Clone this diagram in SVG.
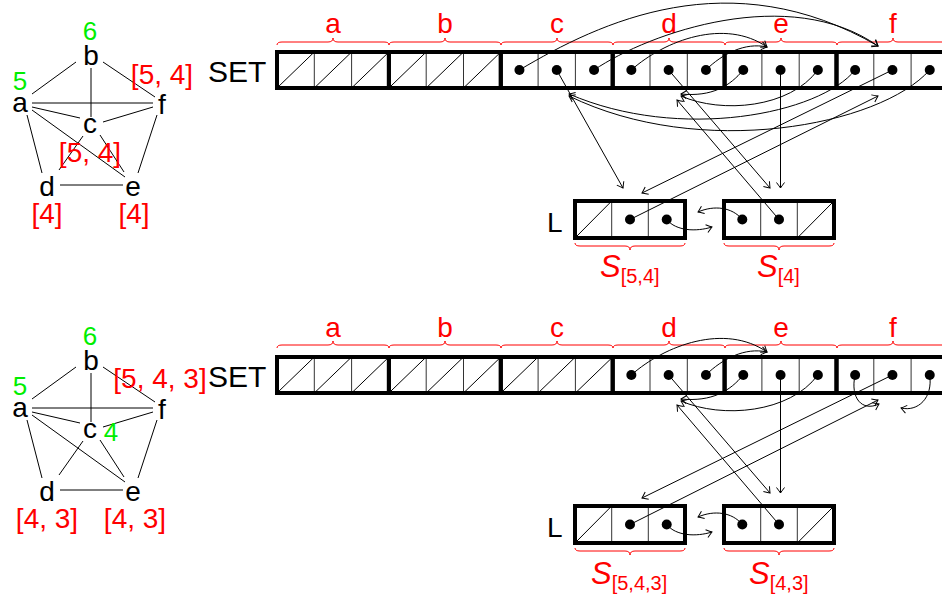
<svg xmlns="http://www.w3.org/2000/svg" width="942" height="597" viewBox="0 0 942 597">
<style>
text{font-family:"Liberation Sans",Arial,sans-serif;}
.lbl{font-size:28px;fill:#000;text-anchor:middle;}
.red{font-size:28px;fill:#ff0000;text-anchor:middle;}
.grn{font-size:26px;fill:#00ee00;text-anchor:middle;}
.big{font-size:30px;fill:#000;}
.glbl{font-size:28px;fill:#ff0000;text-anchor:middle;}
.edge{stroke:#000;stroke-width:1;fill:none;}
.frame{fill:none;stroke:#000;stroke-width:4;}
.cell{stroke:#333;stroke-width:1;}
.slash{stroke:#000;stroke-width:1;}
.dot{fill:#000;}
.brace{fill:none;stroke:#ff0000;stroke-width:1;}
.ptr{stroke:#000;stroke-width:1;fill:none;marker-end:url(#ah);}
.sl{font-size:31px;fill:#ff0000;}
</style>
<defs>
<marker id="ah" viewBox="-7 -5 8 10" refX="0" refY="0" markerWidth="8" markerHeight="10" markerUnits="userSpaceOnUse" orient="auto">
<path d="M-5.5,-4 Q-1.5,-1 0,0 Q-1.5,1 -5.5,4" fill="none" stroke="#000" stroke-width="1"/>
</marker>
<g id="cells3">
<line class="cell" x1="37.3" y1="0" x2="37.3" y2="36"/>
<line class="cell" x1="74.6" y1="0" x2="74.6" y2="36"/>
</g>
<g id="slash3">
<line class="slash" x1="0" y1="36" x2="37.3" y2="0"/>
<line class="slash" x1="37.3" y1="36" x2="74.6" y2="0"/>
<line class="slash" x1="74.6" y1="36" x2="111.9" y2="0"/>
</g>
</defs>

<!-- ===== TOP GRAPH ===== -->
<g id="graph1-edges">
<line class="edge" x1="32" y1="94" x2="76" y2="62"/>
<line class="edge" x1="103" y1="62" x2="155" y2="97"/>
<line class="edge" x1="91" y1="68" x2="91" y2="117"/>
<line class="edge" x1="32" y1="103" x2="153" y2="103"/>
<line class="edge" x1="32" y1="107" x2="80" y2="118"/>
<line class="edge" x1="103" y1="122" x2="153" y2="107"/>
<line class="edge" x1="32" y1="110" x2="125" y2="177"/>
<line class="edge" x1="27" y1="115" x2="42" y2="173"/>
<line class="edge" x1="83" y1="136" x2="59" y2="170"/>
<line class="edge" x1="100" y1="135" x2="124" y2="172"/>
<line class="edge" x1="60" y1="185" x2="123" y2="185"/>
<line class="edge" x1="157" y1="115" x2="138" y2="173"/>
</g>
<g id="g1-a"><text class="lbl" x="20" y="112">a</text><text class="grn" x="20" y="90">5</text></g>
<g id="g1-b"><text class="lbl" x="91" y="65">b</text><text class="grn" x="90" y="40">6</text></g>
<g id="g1-c"><text class="lbl" x="90" y="133">c</text><text class="glbl" x="90" y="162">[5, 4]</text></g>
<g id="g1-d"><text class="lbl" x="47" y="196">d</text><text class="glbl" x="47" y="223">[4]</text></g>
<g id="g1-e"><text class="lbl" x="133" y="196">e</text><text class="glbl" x="134" y="223">[4]</text></g>
<g id="g1-f"><text class="lbl" x="162" y="114">f</text><text class="glbl" x="162" y="84">[5, 4]</text></g>

<!-- ===== TOP SET ===== -->
<text class="big" x="208" y="82">SET</text>
<g id="set1">
<g id="set1-a" transform="translate(277,52)"><use href="#cells3"/><use href="#slash3"/><rect class="frame" x="0" y="0" width="111.9" height="36"/></g>
<g id="set1-b" transform="translate(388.9,52)"><use href="#cells3"/><use href="#slash3"/><rect class="frame" x="0" y="0" width="111.9" height="36"/></g>
<g id="set1-c" transform="translate(500.8,52)"><use href="#cells3"/><circle class="dot" cx="18.65" cy="18" r="5"/><circle class="dot" cx="55.95" cy="18" r="5"/><circle class="dot" cx="93.25" cy="18" r="5"/><rect class="frame" x="0" y="0" width="111.9" height="36"/></g>
<g id="set1-d" transform="translate(612.7,52)"><use href="#cells3"/><circle class="dot" cx="18.65" cy="18" r="5"/><circle class="dot" cx="55.95" cy="18" r="5"/><circle class="dot" cx="93.25" cy="18" r="5"/><rect class="frame" x="0" y="0" width="111.9" height="36"/></g>
<g id="set1-e" transform="translate(724.6,52)"><use href="#cells3"/><circle class="dot" cx="18.65" cy="18" r="5"/><circle class="dot" cx="55.95" cy="18" r="5"/><circle class="dot" cx="93.25" cy="18" r="5"/><rect class="frame" x="0" y="0" width="111.9" height="36"/></g>
<g id="set1-f" transform="translate(836.5,52)"><use href="#cells3"/><circle class="dot" cx="18.65" cy="18" r="5"/><circle class="dot" cx="55.95" cy="18" r="5"/><circle class="dot" cx="93.25" cy="18" r="5"/><rect class="frame" x="0" y="0" width="111.9" height="36"/></g>
</g>
<g id="braces1">
<path class="brace" d="M277,45 Q277,42 282,42 L328,42 Q333,42 333,38 Q333,42 338,42 L384,42 Q389,42 389,45"/>
<path class="brace" d="M389,45 Q389,42 394,42 L440,42 Q445,42 445,38 Q445,42 450,42 L496,42 Q501,42 501,45"/>
<path class="brace" d="M501,45 Q501,42 506,42 L552,42 Q557,42 557,38 Q557,42 562,42 L608,42 Q613,42 613,45"/>
<path class="brace" d="M613,45 Q613,42 618,42 L664,42 Q669,42 669,38 Q669,42 674,42 L720,42 Q725,42 725,45"/>
<path class="brace" d="M725,45 Q725,42 730,42 L776,42 Q781,42 781,38 Q781,42 786,42 L832,42 Q837,42 837,45"/>
<path class="brace" d="M837,45 Q837,42 842,42 L888,42 Q893,42 893,38 Q893,42 898,42 L944,42 Q949,42 949,45"/>
<text class="red" x="333" y="33">a</text>
<text class="red" x="445" y="33">b</text>
<text class="red" x="557" y="33">c</text>
<text class="red" x="669" y="33">d</text>
<text class="red" x="781" y="33">e</text>
<text class="red" x="893" y="33">f</text>
</g>

<!-- ===== TOP L ===== -->
<text class="big" x="547" y="232" style="font-size:28px">L</text>
<g id="L1-s1" transform="translate(575,201)">
<line class="cell" x1="36.7" y1="0" x2="36.7" y2="37"/><line class="cell" x1="73.3" y1="0" x2="73.3" y2="37"/>
<line class="slash" x1="0" y1="37" x2="36.7" y2="0"/>
<circle class="dot" cx="55" cy="18.5" r="5"/><circle class="dot" cx="91.7" cy="18.5" r="5"/>
<rect class="frame" x="0" y="0" width="110" height="37"/>
</g>
<g id="L1-s2" transform="translate(724,201)">
<line class="cell" x1="36.7" y1="0" x2="36.7" y2="37"/><line class="cell" x1="73.3" y1="0" x2="73.3" y2="37"/>
<line class="slash" x1="73.3" y1="37" x2="110" y2="0"/>
<circle class="dot" cx="18.3" cy="18.5" r="5"/><circle class="dot" cx="55" cy="18.5" r="5"/>
<rect class="frame" x="0" y="0" width="110" height="37"/>
</g>
<g id="L1-braces">
<path class="brace" d="M575,243 Q575,246 580,246 L625,246 Q630,246 630,250 Q630,246 635,246 L680,246 Q685,246 685,243"/>
<path class="brace" d="M724,243 Q724,246 729,246 L774,246 Q779,246 779,250 Q779,246 784,246 L829,246 Q834,246 834,243"/>
<text class="sl" x="600" y="277"><tspan font-style="italic">S</tspan><tspan font-size="20" dy="6">[5,4]</tspan></text>
<text class="sl" x="757" y="277"><tspan font-style="italic">S</tspan><tspan font-size="20" dy="6">[4]</tspan></text>
</g>

<!-- ===== TOP CONNECTORS ===== -->
<g id="connectors1">
<path class="ptr" d="M519.4,70 C600,22 730,-40 878,46"/>
<path class="ptr" d="M594,70 C650,32 790,-16 878,46"/>
<path class="ptr" d="M631.3,70 C665,40 725,18 767,47"/>
<path class="ptr" d="M705.9,70 C722,54 745,42 767,47"/>
<path class="ptr" d="M743.2,70 C730,86 712,97 681,94"/>
<path class="ptr" d="M817.8,70 C790,108 722,114 681,96"/>
<path class="ptr" d="M855.1,70 C820,114 680,142 569,94"/>
<path class="ptr" d="M929.7,70 C880,126 700,160 569,96"/>
<path class="ptr" d="M556.7,70 L623,188"/>
<path class="ptr" d="M892.4,70 L642,193"/>
<path class="ptr" d="M630,219.5 L878,96"/>
<path class="ptr" d="M668.6,70 L770,188"/>
<path class="ptr" d="M779,219.5 L677,100"/>
<path class="ptr" d="M780.5,70 L780.5,188"/>
<path class="ptr" d="M742.3,219.5 C732,207 714,205 698,212"/>
<path class="ptr" d="M666.7,219.5 C676,231 696,232 712,227"/>
</g>

<!-- ===== BOTTOM GRAPH ===== -->
<g id="graph2-edges" transform="translate(0,305)">
<line class="edge" x1="32" y1="94" x2="76" y2="62"/>
<line class="edge" x1="103" y1="62" x2="155" y2="97"/>
<line class="edge" x1="91" y1="68" x2="91" y2="117"/>
<line class="edge" x1="32" y1="103" x2="153" y2="103"/>
<line class="edge" x1="32" y1="107" x2="80" y2="118"/>
<line class="edge" x1="103" y1="122" x2="153" y2="107"/>
<line class="edge" x1="32" y1="110" x2="125" y2="177"/>
<line class="edge" x1="27" y1="115" x2="42" y2="173"/>
<line class="edge" x1="83" y1="136" x2="59" y2="170"/>
<line class="edge" x1="100" y1="135" x2="124" y2="172"/>
<line class="edge" x1="60" y1="185" x2="123" y2="185"/>
<line class="edge" x1="157" y1="115" x2="138" y2="173"/>
</g>
<g id="g2-a"><text class="lbl" x="20" y="417">a</text><text class="grn" x="20" y="395">5</text></g>
<g id="g2-b"><text class="lbl" x="91" y="370">b</text><text class="grn" x="90" y="345">6</text></g>
<g id="g2-c"><text class="lbl" x="90" y="438">c</text><text class="grn" x="111" y="441">4</text></g>
<g id="g2-d"><text class="lbl" x="47" y="501">d</text><text class="glbl" x="47" y="528">[4, 3]</text></g>
<g id="g2-e"><text class="lbl" x="133" y="501">e</text><text class="glbl" x="135" y="528">[4, 3]</text></g>
<g id="g2-f"><text class="lbl" x="162" y="419">f</text><text class="glbl" x="160" y="388">[5, 4, 3]</text></g>

<!-- ===== BOTTOM SET ===== -->
<text class="big" x="208" y="387">SET</text>
<g id="set2">
<g id="set2-a" transform="translate(277,357)"><use href="#cells3"/><use href="#slash3"/><rect class="frame" x="0" y="0" width="111.9" height="36"/></g>
<g id="set2-b" transform="translate(388.9,357)"><use href="#cells3"/><use href="#slash3"/><rect class="frame" x="0" y="0" width="111.9" height="36"/></g>
<g id="set2-c" transform="translate(500.8,357)"><use href="#cells3"/><use href="#slash3"/><rect class="frame" x="0" y="0" width="111.9" height="36"/></g>
<g id="set2-d" transform="translate(612.7,357)"><use href="#cells3"/><circle class="dot" cx="18.65" cy="18" r="5"/><circle class="dot" cx="55.95" cy="18" r="5"/><circle class="dot" cx="93.25" cy="18" r="5"/><rect class="frame" x="0" y="0" width="111.9" height="36"/></g>
<g id="set2-e" transform="translate(724.6,357)"><use href="#cells3"/><circle class="dot" cx="18.65" cy="18" r="5"/><circle class="dot" cx="55.95" cy="18" r="5"/><circle class="dot" cx="93.25" cy="18" r="5"/><rect class="frame" x="0" y="0" width="111.9" height="36"/></g>
<g id="set2-f" transform="translate(836.5,357)"><use href="#cells3"/><circle class="dot" cx="18.65" cy="18" r="5"/><circle class="dot" cx="55.95" cy="18" r="5"/><circle class="dot" cx="93.25" cy="18" r="5"/><rect class="frame" x="0" y="0" width="111.9" height="36"/></g>
</g>
<g id="braces2">
<path class="brace" d="M277,348 Q277,345 282,345 L328,345 Q333,345 333,341 Q333,345 338,345 L384,345 Q389,345 389,348"/>
<path class="brace" d="M389,348 Q389,345 394,345 L440,345 Q445,345 445,341 Q445,345 450,345 L496,345 Q501,345 501,348"/>
<path class="brace" d="M501,348 Q501,345 506,345 L552,345 Q557,345 557,341 Q557,345 562,345 L608,345 Q613,345 613,348"/>
<path class="brace" d="M613,348 Q613,345 618,345 L664,345 Q669,345 669,341 Q669,345 674,345 L720,345 Q725,345 725,348"/>
<path class="brace" d="M725,348 Q725,345 730,345 L776,345 Q781,345 781,341 Q781,345 786,345 L832,345 Q837,345 837,348"/>
<path class="brace" d="M837,348 Q837,345 842,345 L888,345 Q893,345 893,341 Q893,345 898,345 L944,345 Q949,345 949,348"/>
<text class="red" x="333" y="337">a</text>
<text class="red" x="445" y="337">b</text>
<text class="red" x="557" y="337">c</text>
<text class="red" x="669" y="337">d</text>
<text class="red" x="781" y="337">e</text>
<text class="red" x="893" y="337">f</text>
</g>

<!-- ===== BOTTOM L ===== -->
<text class="big" x="547" y="537" style="font-size:28px">L</text>
<g id="L2-s1" transform="translate(575,506)">
<line class="cell" x1="36.7" y1="0" x2="36.7" y2="37"/><line class="cell" x1="73.3" y1="0" x2="73.3" y2="37"/>
<line class="slash" x1="0" y1="37" x2="36.7" y2="0"/>
<circle class="dot" cx="55" cy="18.5" r="5"/><circle class="dot" cx="91.7" cy="18.5" r="5"/>
<rect class="frame" x="0" y="0" width="110" height="37"/>
</g>
<g id="L2-s2" transform="translate(724,506)">
<line class="cell" x1="36.7" y1="0" x2="36.7" y2="37"/><line class="cell" x1="73.3" y1="0" x2="73.3" y2="37"/>
<line class="slash" x1="73.3" y1="37" x2="110" y2="0"/>
<circle class="dot" cx="18.3" cy="18.5" r="5"/><circle class="dot" cx="55" cy="18.5" r="5"/>
<rect class="frame" x="0" y="0" width="110" height="37"/>
</g>
<g id="L2-braces">
<path class="brace" d="M575,548 Q575,551 580,551 L625,551 Q630,551 630,555 Q630,551 635,551 L680,551 Q685,551 685,548"/>
<path class="brace" d="M724,548 Q724,551 729,551 L774,551 Q779,551 779,555 Q779,551 784,551 L829,551 Q834,551 834,548"/>
<text class="sl" x="591" y="584"><tspan font-style="italic">S</tspan><tspan font-size="20" dy="6">[5,4,3]</tspan></text>
<text class="sl" x="749" y="584"><tspan font-style="italic">S</tspan><tspan font-size="20" dy="6">[4,3]</tspan></text>
</g>

<!-- ===== BOTTOM CONNECTORS ===== -->
<g id="connectors2">
<path class="ptr" d="M631.3,375 C665,345 725,323 767,352"/>
<path class="ptr" d="M705.9,375 C722,359 745,347 767,352"/>
<path class="ptr" d="M743.2,375 C730,391 712,402 681,399"/>
<path class="ptr" d="M817.8,375 C790,413 722,419 681,401"/>
<path class="ptr" d="M668.6,375 L770,493"/>
<path class="ptr" d="M779,524.5 L677,405"/>
<path class="ptr" d="M780.5,375 L780.5,493"/>
<path class="ptr" d="M742.3,524.5 C732,512 714,510 698,517"/>
<path class="ptr" d="M666.7,524.5 C676,536 696,537 712,532"/>
<path class="ptr" d="M855.1,375 C850,398 862,412 879,404"/>
<path class="ptr" d="M929.7,375 C933,398 918,412 901,408"/>
<path class="ptr" d="M892.4,375 L642,498"/>
<path class="ptr" d="M630,524.5 L878,400"/>
</g>
</svg>
